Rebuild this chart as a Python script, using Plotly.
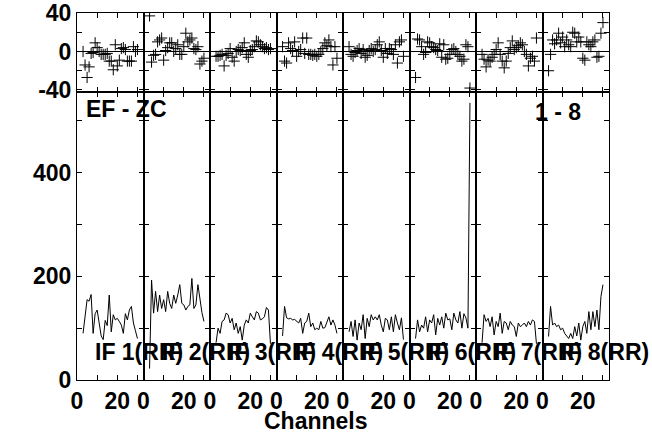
import plotly.graph_objects as go
from plotly.subplots import make_subplots

channels = list(range(3, 31))
if_labels = ["IF 1(RR)", "IF 2(RR)", "IF 3(RR)", "IF 4(RR)",
             "IF 5(RR)", "IF 6(RR)", "IF 7(RR)", "IF 8(RR)"]
x_tickvals = [0, 10, 20, 30]
x_ticktext = ["0", "", "20", ""]
phase_tickvals = [-40, -20, 0, 20, 40]
phase_ticktext = ["-40", "", "0", "", "40"]
amp_tickvals = [0, 100, 200, 300, 400, 500]
amp_ticktext = ["0", "", "200", "", "400", ""]

ph_if1 = [0, -14, -27, -16, -2, -1, 9, 4, 0, -3, -3, -3, -2, -10, -10, -19, 7, -15, -9, 3, 4, 2, -10, -10, -10, 5, 0, 2]
ph_if2 = [37, -11, -4, -3, 10, 12, 14, -9, 1, 4, 9, 9, 0, 3, 7, -3, -3, 5, 19, 10, 12, 14, 3, 2, 5, -13, -10, -7]
ph_if3 = [-5, -5, -4, -3, -15, -4, -2, 3, -6, -10, 0, 2, 1, 4, 9, -3, -6, 1, 2, 5, 11, 10, 7, 5, 3, 4, 2, 3]
ph_if4 = [5, -10, -12, 9, 3, 1, 10, -5, 0, 2, 14, -2, 14, -3, -3, -4, -3, -5, -3, 0, 3, 9, 6, 12, 5, -14, 5, -7]
ph_if5 = [5, -3, -5, -1, 1, 3, -2, 2, -6, -4, 1, 3, 0, 2, 7, 10, 1, -6, 3, -2, 3, 2, -3, 7, -12, 10, 12, -5]
ph_if6 = [-27, 13, 12, 5, -3, -1, 10, 9, 5, 4, 2, 1, 8, -6, 7, -8, -7, -3, 2, 3, 0, -3, -5, -10, -8, 7, 5, -38]
ph_if7 = [-3, -8, -16, -9, -10, -6, -3, 2, 9, -3, -10, -17, -10, -2, 4, 11, 2, 4, 6, 9, 7, 0, -3, -15, -7, -5, -10, 14]
ph_if8 = [-20, -3, 12, 8, 12, 19, 9, 15, 5, 12, 7, 5, 20, 19, 10, 15, 10, -7, -9, 10, 7, 5, 10, 12, -6, -5, 19, 30]

amp_if1 = [90, 120, 155, 152, 165, 90, 128, 135, 110, 85, 78, 115, 105, 164, 93, 126, 116, 119, 113, 106, 90, 128, 116, 135, 142, 110, 95, 80]
amp_if2 = [22, 193, 129, 171, 132, 164, 138, 155, 132, 171, 148, 138, 164, 148, 164, 184, 148, 145, 135, 142, 145, 196, 138, 145, 184, 151, 130, 113]
amp_if3 = [72, 100, 90, 113, 116, 129, 126, 110, 119, 97, 110, 90, 103, 77, 106, 116, 110, 129, 122, 116, 132, 129, 116, 118, 122, 140, 135, 70]
amp_if4 = [85, 142, 120, 118, 119, 116, 117, 113, 110, 119, 90, 110, 113, 129, 103, 110, 97, 100, 97, 113, 100, 101, 110, 122, 106, 116, 106, 90]
amp_if5 = [93, 113, 84, 116, 77, 110, 97, 126, 80, 119, 103, 126, 116, 122, 116, 126, 106, 93, 119, 116, 97, 122, 93, 126, 110, 97, 120, 78]
amp_if6 = [80, 116, 93, 106, 100, 122, 93, 116, 110, 126, 87, 119, 106, 122, 100, 129, 116, 118, 97, 129, 116, 110, 132, 100, 128, 120, 100, 535]
amp_if7 = [72, 126, 113, 119, 103, 122, 87, 113, 103, 129, 90, 113, 110, 97, 113, 106, 103, 84, 110, 103, 106, 110, 103, 113, 106, 116, 113, 70]
amp_if8 = [84, 142, 106, 110, 103, 106, 97, 100, 90, 84, 80, 90, 80, 103, 85, 110, 77, 103, 113, 90, 132, 97, 132, 103, 135, 97, 161, 184]

phases = [ph_if1, ph_if2, ph_if3, ph_if4, ph_if5, ph_if6, ph_if7, ph_if8]
amps = [amp_if1, amp_if2, amp_if3, amp_if4, amp_if5, amp_if6, amp_if7, amp_if8]

FONT = "Liberation Sans, Arial, Helvetica, sans-serif"
BOLD = dict(family=FONT, size=23, color="black", weight="bold")

fig = make_subplots(rows=2, cols=8, row_heights=[0.215, 0.785],
                    horizontal_spacing=0, vertical_spacing=0)

for i in range(8):
    fig.add_trace(go.Scatter(x=channels, y=phases[i], mode="markers",
                             marker=dict(symbol="cross-thin", size=8, color="black",
                                         line=dict(width=1, color="black"))),
                  row=1, col=i + 1)
    fig.add_trace(go.Scatter(x=channels, y=amps[i], mode="lines",
                             line=dict(color="black", width=1)),
                  row=2, col=i + 1)
    fig.add_annotation(text=if_labels[i], xref=f"x{9 + i}", yref=f"y{9 + i}",
                       x=8, y=55, xanchor="left", yanchor="middle",
                       showarrow=False, font=BOLD)

fig.update_xaxes(range=[0, 33], tickvals=x_tickvals, ticktext=x_ticktext,
                 ticks="inside", ticklen=5, tickcolor="black", tickwidth=1,
                 showline=True, linecolor="black", linewidth=1, mirror="ticks",
                 showgrid=False, zeroline=False, tickfont=BOLD, automargin=False)
fig.update_xaxes(showticklabels=False, row=1)

fig.update_yaxes(ticks="inside", ticklen=5, tickcolor="black", tickwidth=1,
                 showline=True, linecolor="black", linewidth=1, mirror="ticks",
                 showgrid=False, tickfont=BOLD, automargin=False)
fig.update_yaxes(range=[-42, 40], tickvals=phase_tickvals, ticktext=phase_ticktext,
                 zeroline=True, zerolinecolor="black", zerolinewidth=1, row=1)
fig.update_yaxes(range=[0, 556], tickvals=amp_tickvals, ticktext=amp_ticktext,
                 zeroline=False, row=2)
for c in range(2, 9):
    fig.update_yaxes(showticklabels=False, row=1, col=c)
    fig.update_yaxes(showticklabels=False, row=2, col=c)

fig.add_annotation(text="EF - ZC", xref="paper", yref="paper", x=0.013, y=0.738,
                   xanchor="left", yanchor="middle", showarrow=False, font=BOLD)
fig.add_annotation(text="1 - 8", xref="paper", yref="paper", x=0.905, y=0.731,
                   xanchor="center", yanchor="middle", showarrow=False, font=BOLD)
fig.add_annotation(text="Channels", xref="paper", yref="paper", x=0.45, y=-0.113,
                   xanchor="center", yanchor="middle", showarrow=False, font=BOLD)

fig.update_layout(width=652, height=434, margin=dict(l=77, r=43, t=13, b=54),
                  paper_bgcolor="white", plot_bgcolor="white", showlegend=False)

# remove the default 8px page margin so the figure fills the window exactly
fig.write_html("out.html", config={"displayModeBar": False},
               post_script="document.body.style.margin='0px';document.body.style.overflow='hidden';")
